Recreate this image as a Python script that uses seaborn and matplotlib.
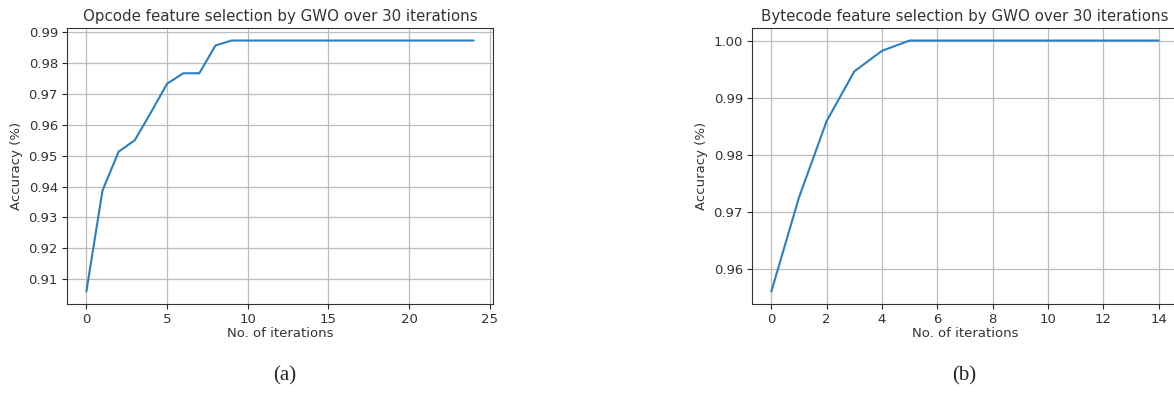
import numpy as np
import pandas as pd
import matplotlib
matplotlib.use("Agg")
import matplotlib.pyplot as plt
import seaborn as sns

# opcode run (a)
opcode_iter = list(range(25))
opcode_acc = [0.906, 0.9387, 0.9513, 0.955, 0.964, 0.9733, 0.9767, 0.9767, 0.9857,
              0.9873] + [0.9873] * 15

# bytecode run (b)
bytecode_iter = list(range(15))
bytecode_acc = [0.956, 0.9725, 0.9859, 0.9946, 0.9982] + [1.0] * 10

titles = ["Opcode feature selection by GWO over 30 iterations",
          "Bytecode feature selection by GWO over 30 iterations"]
captions = ["(a)", "(b)"]

sns.set_style("ticks", {"axes.grid": True, "grid.color": "#bdbdbd",
                        "axes.edgecolor": ".2"})

fig = plt.figure(figsize=(11.74, 3.94), dpi=100)
W, H = 1174, 394
ax_a = fig.add_axes([67 / W, 1 - 304 / H, 426 / W, 276 / H])
ax_b = fig.add_axes([752 / W, 1 - 304 / H, 426 / W, 276 / H])

df_a = pd.DataFrame({"it": opcode_iter, "acc": opcode_acc})
df_b = pd.DataFrame({"it": bytecode_iter, "acc": bytecode_acc})

for ax, df, title in [(ax_a, df_a, titles[0]), (ax_b, df_b, titles[1])]:
    sns.lineplot(data=df, x="it", y="acc", ax=ax, color="#2b7fc0", linewidth=1.5)
    ax.set_title(title, fontsize=10.8, pad=5, color=".2")
    ax.set_xlabel("No. of iterations", fontsize=9.5, labelpad=1, color=".2")
    ax.set_ylabel("Accuracy (%)", fontsize=9.5, labelpad=4, color=".2")
    ax.tick_params(labelsize=9.5, length=3.5, pad=3, labelcolor=".2")
    ax.grid(True, color="#bdbdbd", linewidth=0.9)

ax_a.set_xticks([0, 5, 10, 15, 20, 25])
ax_a.set_xlim(-1.2, 25.2)
ax_b.set_xticks(range(0, 15, 2))
ax_b.set_xlim(-0.7, 14.7)
ax_b.yaxis.set_major_formatter(matplotlib.ticker.FormatStrFormatter("%.2f"))

fig.text(285 / W, 1 - 376 / H, captions[0], fontsize=15, family="Liberation Serif",
         ha="center", va="center")
fig.text(964 / W, 1 - 376 / H, captions[1], fontsize=15, family="Liberation Serif",
         ha="center", va="center")

fig.savefig("out.png", dpi=100)
